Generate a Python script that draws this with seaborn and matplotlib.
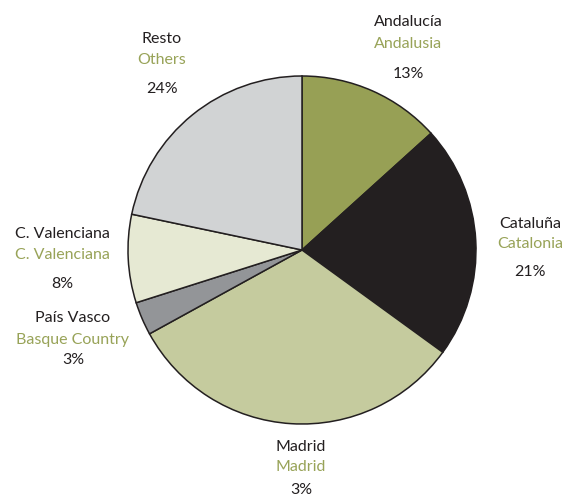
import matplotlib
matplotlib.use("Agg")
import matplotlib.pyplot as plt
import seaborn as sns

# --- DADOS ---
regiones = ["Andalucía", "Cataluña", "Madrid", "País Vasco", "C. Valenciana", "Resto"]
regions_en = ["Andalusia", "Catalonia", "Madrid", "Basque Country", "C. Valenciana", "Others"]
# cuota medida en el dibujo (las etiquetas son las del original)
cuota = [13.3, 21.7, 32.0, 3.1, 8.2, 21.7]
etiquetas_pct = ["13%", "21%", "3%", "3%", "8%", "24%"]

colores = ["#97a055", "#231f20", "#c5cb9e", "#939598", "#e6e9d3", "#d1d3d4"]
VERDE = "#98a358"
OSCURO = "#231f20"

# posicion de cada bloque de texto (centro x, y de las tres lineas) en pixeles
pos_txt = [
    (408, (22, 44, 74)),
    (530, (224, 244, 272)),
    (301, (447, 467, 490)),
    (73, (318, 340, 360)),
    (62, (234, 255, 284)),
    (162, (39, 60, 89)),
]

sns.set_theme(style="white")
plt.rcParams["font.family"] = ["Lato", "DejaVu Sans"]

W, H = 569, 500
CX, CY, R = 302, 250, 174

fig = plt.figure(figsize=(W / 100, H / 100), dpi=100)
ax = fig.add_axes([(CX - R) / W, (H - CY - R) / H, 2 * R / W, 2 * R / H])

ax.pie(cuota, colors=colores, startangle=90, counterclock=False, radius=1,
       wedgeprops=dict(edgecolor=OSCURO, linewidth=1.1))
ax.set_xlim(-1, 1)
ax.set_ylim(-1, 1)
ax.set_aspect("equal")
ax.axis("off")

for es, en, pct, (px, ys) in zip(regiones, regions_en, etiquetas_pct, pos_txt):
    x = (px - CX) / R
    for txt, py, col in zip([es, en, pct], ys, [OSCURO, VERDE, OSCURO]):
        ax.text(x, (CY - py) / R, txt, ha="center", va="center", fontsize=11.5,
                color=col, clip_on=False)

fig.savefig("out.png", dpi=100)
